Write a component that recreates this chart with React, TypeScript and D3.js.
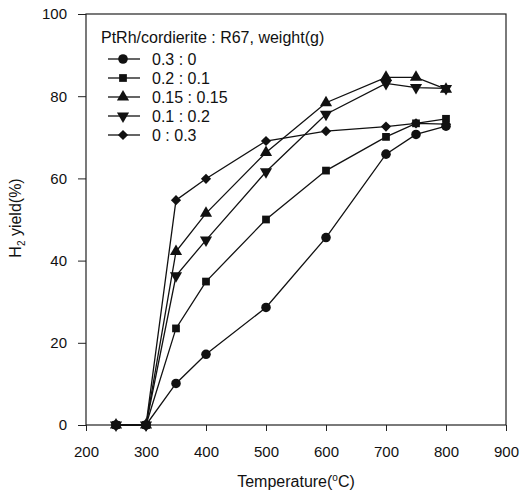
import React, { useEffect, useRef } from "react";
import * as d3 from "d3";

const temps = [250, 300, 350, 400, 500, 600, 700, 750, 800];
const seriesNames = ["0.3 : 0", "0.2 : 0.1", "0.15 : 0.15", "0.1 : 0.2", "0 : 0.3"];
const yield03_0 = [0, 0, 10.1, 17.2, 28.6, 45.6, 65.9, 70.7, 72.7];
const yield02_01 = [0, 0, 23.5, 34.9, 50.0, 61.9, 70.1, 73.4, 74.5];
const yield015_015 = [0, 0, 42.2, 51.5, 66.3, 78.4, 84.6, 84.6, 81.7];
const yield01_02 = [0, 0, 36.3, 45.0, 61.6, 75.6, 83.1, 82.1, 81.9];
const yield0_03 = [0, 0, 54.7, 59.9, 69.1, 71.5, 72.6, 73.4, 73.2];
const xTicks = [200, 300, 400, 500, 600, 700, 800, 900];
const yTicks = [0, 20, 40, 60, 80, 100];

const allSeries = [yield03_0, yield02_01, yield015_015, yield01_02, yield0_03];

const App = () => {
  const svgRef = useRef<SVGSVGElement>(null);

  useEffect(() => {
    const svg = d3.select(svgRef.current);
    svg.selectAll("*").remove();
    const font = "Liberation Sans, Arial, sans-serif";

    const left = 86, right = 506, top = 14, bottom = 425;
    const x = d3.scaleLinear().domain([200, 900]).range([left, right]);
    const y = d3.scaleLinear().domain([0, 100]).range([bottom, top]);

    // frame
    svg.append("rect")
      .attr("x", left).attr("y", top)
      .attr("width", right - left).attr("height", bottom - top)
      .attr("fill", "none").attr("stroke", "#222").attr("stroke-width", 1.2);

    // axes
    const yAxis = svg.append("g")
      .attr("transform", `translate(${left},0)`)
      .call(d3.axisLeft(y).tickValues(yTicks).tickSize(8).tickPadding(11));
    const xAxis = svg.append("g")
      .attr("transform", `translate(0,${bottom})`)
      .call(d3.axisBottom(x).tickValues(xTicks).tickSize(6).tickPadding(15));
    [yAxis, xAxis].forEach((g) => {
      g.select(".domain").remove();
      g.selectAll("line").attr("stroke", "#222");
      g.selectAll("text").attr("font-family", font).attr("font-size", 15).attr("fill", "#111");
    });

    // axis titles
    const xt = svg.append("text")
      .attr("x", 296).attr("y", 487)
      .attr("text-anchor", "middle")
      .attr("font-family", font).attr("font-size", 16).attr("fill", "#111");
    xt.append("tspan").text("Temperature(");
    xt.append("tspan").attr("font-size", 10).attr("dy", -6).text("o");
    xt.append("tspan").attr("dy", 6).text("C)");

    const yt = svg.append("text")
      .attr("transform", `translate(21,218) rotate(-90)`)
      .attr("text-anchor", "middle")
      .attr("font-family", font).attr("font-size", 16).attr("fill", "#111");
    yt.append("tspan").text("H");
    yt.append("tspan").attr("font-size", 10).attr("dy", 4).text("2");
    yt.append("tspan").attr("dy", -4).text(" yield(%)");

    const symbols = [
      d3.symbol().type(d3.symbolCircle).size(72),
      d3.symbol().type(d3.symbolSquare).size(60),
      d3.symbol().type(d3.symbolTriangle).size(64),
      d3.symbol().type(d3.symbolTriangle).size(64),
      d3.symbol().type(d3.symbolSquare).size(52),
    ];
    const rot = [0, 0, 0, 180, 45];

    const line = d3.line<number>().x((_, i) => x(temps[i])).y((d) => y(d));

    allSeries.forEach((vals, s) => {
      svg.append("path")
        .attr("d", line(vals))
        .attr("fill", "none").attr("stroke", "#111").attr("stroke-width", 1.3);
      svg.append("g").selectAll("path")
        .data(vals)
        .enter()
        .append("path")
        .attr("d", symbols[s]())
        .attr("transform", (d, i) => `translate(${x(temps[i])},${y(d)}) rotate(${rot[s]})`)
        .attr("fill", "#111");
    });

    // legend
    svg.append("text")
      .attr("x", 101).attr("y", 43)
      .attr("font-family", font).attr("font-size", 16).attr("fill", "#111")
      .text("PtRh/cordierite : R67, weight(g)");
    seriesNames.forEach((name, s) => {
      const ly = 59 + s * 19;
      svg.append("line")
        .attr("x1", 108).attr("x2", 140).attr("y1", ly).attr("y2", ly)
        .attr("stroke", "#111").attr("stroke-width", 1.3);
      svg.append("path")
        .attr("d", symbols[s]())
        .attr("transform", `translate(123,${ly}) rotate(${rot[s]})`)
        .attr("fill", "#111");
      svg.append("text")
        .attr("x", 152).attr("y", ly + 5.5)
        .attr("font-family", font).attr("font-size", 16).attr("fill", "#111")
        .text(name);
    });
  }, []);

  return (
    <svg
      ref={svgRef}
      width={520}
      height={492}
      style={{ position: "absolute", left: 0, top: 0, background: "#fff" }}
    ></svg>
  );
};

export default App;
